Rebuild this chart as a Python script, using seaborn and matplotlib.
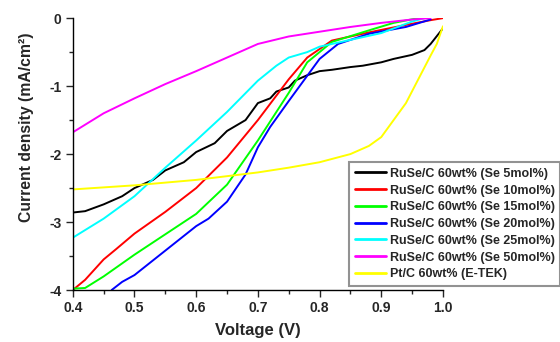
import numpy as np
import pandas as pd
import matplotlib
matplotlib.use("Agg")
import matplotlib.pyplot as plt
import seaborn as sns

# Valori (tensione V, densita di corrente mA/cm2)
labels = ["RuSe/C 60wt% (Se 5mol%)", "RuSe/C 60wt% (Se 10mol%)",
          "RuSe/C 60wt% (Se 15mol%)", "RuSe/C 60wt% (Se 20mol%)",
          "RuSe/C 60wt% (Se 25mol%)", "RuSe/C 60wt% (Se 50mol%)",
          "Pt/C 60wt% (E-TEK)"]
colors = ["#000000", "#ff0000", "#00ff00", "#0000ff", "#00ffff", "#ff00ff", "#ffff00"]

v_se5 = [0.40, 0.42, 0.45, 0.48, 0.50, 0.53, 0.55, 0.58, 0.60, 0.63, 0.65, 0.68, 0.70,
         0.72, 0.73, 0.75, 0.76, 0.78, 0.80, 0.82, 0.85, 0.87, 0.90, 0.92, 0.95, 0.97, 0.98, 1.00]
j_se5 = [-2.86, -2.84, -2.74, -2.62, -2.50, -2.38, -2.24, -2.12, -1.97, -1.84, -1.66, -1.50, -1.25,
         -1.18, -1.08, -1.02, -0.92, -0.84, -0.78, -0.76, -0.72, -0.70, -0.65, -0.60, -0.54, -0.47, -0.38, -0.15]

v_se10 = [0.40, 0.42, 0.45, 0.47, 0.50, 0.55, 0.60, 0.65, 0.70, 0.75, 0.78, 0.82, 0.88, 0.94, 0.98, 1.00]
j_se10 = [-4.00, -3.85, -3.55, -3.40, -3.17, -2.85, -2.50, -2.05, -1.50, -0.90, -0.58, -0.33, -0.21, -0.10, -0.03, 0.0]

v_se15 = [0.40, 0.42, 0.45, 0.50, 0.55, 0.60, 0.65, 0.70, 0.75, 0.78, 0.82, 0.88, 0.92, 0.96]
j_se15 = [-3.98, -3.97, -3.80, -3.48, -3.18, -2.88, -2.45, -1.80, -1.10, -0.65, -0.35, -0.18, -0.07, 0.0]

v_se20 = [0.463, 0.48, 0.50, 0.55, 0.60, 0.62, 0.65, 0.68, 0.70, 0.72, 0.75, 0.80, 0.83, 0.88, 0.94, 0.98]
j_se20 = [-4.00, -3.88, -3.78, -3.42, -3.06, -2.95, -2.70, -2.30, -1.90, -1.60, -1.22, -0.60, -0.38, -0.23, -0.13, -0.02]

v_se25 = [0.40, 0.45, 0.50, 0.55, 0.60, 0.65, 0.70, 0.73, 0.75, 0.78, 0.80, 0.85, 0.90, 0.95, 0.97]
j_se25 = [-3.23, -2.95, -2.62, -2.20, -1.80, -1.38, -0.92, -0.70, -0.58, -0.50, -0.42, -0.32, -0.22, -0.05, 0.0]

v_se50 = [0.40, 0.45, 0.50, 0.55, 0.60, 0.65, 0.70, 0.75, 0.80, 0.85, 0.90, 0.95, 0.98]
j_se50 = [-1.68, -1.40, -1.18, -0.97, -0.78, -0.58, -0.38, -0.27, -0.20, -0.13, -0.07, -0.02, 0.0]

v_pt = [0.40, 0.50, 0.60, 0.70, 0.75, 0.80, 0.85, 0.88, 0.90, 0.92, 0.94, 0.96, 0.98, 0.99, 1.00]
j_pt = [-2.52, -2.46, -2.38, -2.27, -2.20, -2.12, -2.00, -1.88, -1.75, -1.50, -1.25, -0.90, -0.55, -0.38, -0.12]

series_v = [v_se5, v_se10, v_se15, v_se20, v_se25, v_se50, v_pt]
series_j = [j_se5, j_se10, j_se15, j_se20, j_se25, j_se50, j_pt]

df = pd.concat([pd.DataFrame({"V": v, "J": j, "campione": lab})
                for v, j, lab in zip(series_v, series_j, labels)], ignore_index=True)

sns.set_style("ticks")
plt.rcParams["font.family"] = ["Liberation Sans", "DejaVu Sans"]
plt.rcParams["font.weight"] = "bold"

fig = plt.figure(figsize=(5.6, 3.42), dpi=100)
ax = fig.add_axes([0.130, 0.152, 0.661, 0.795])

sns.lineplot(data=df, x="V", y="J", hue="campione", hue_order=labels,
             palette=dict(zip(labels, colors)), sort=False, estimator=None,
             linewidth=1.4, ax=ax)

ax.set_xlim(0.4, 1.0)
ax.set_ylim(-4, 0)
ax.set_xticks([0.4, 0.5, 0.6, 0.7, 0.8, 0.9, 1.0])
ax.set_yticks([-4, -3, -2, -1, 0])
ax.set_yticklabels(["-4", "-3", "-2", "-1", "0"])
ax.set_xticks(np.arange(0.45, 1.0, 0.1), minor=True)
ax.set_yticks([-3.5, -2.5, -1.5, -0.5], minor=True)
ax.tick_params(which="major", direction="out", length=5, width=1, labelsize=10, pad=3)
ax.tick_params(which="minor", direction="out", length=3, width=1)
for lab in ax.get_xticklabels() + ax.get_yticklabels():
    lab.set_fontweight("bold")
for s in ["top", "right"]:
    ax.spines[s].set_visible(False)
for s in ["left", "bottom"]:
    ax.spines[s].set_color("black")
    ax.spines[s].set_linewidth(1)

ax.set_xlabel("Voltage (V)", fontsize=12, fontweight="bold")
ax.xaxis.set_label_coords(0.5, -0.122)
ax.set_ylabel("Current density (mA/cm²)", fontsize=11.3, fontweight="bold")
ax.yaxis.set_label_coords(-0.105, 0.6)

handles, labs = ax.get_legend_handles_labels()
leg = ax.legend(handles, labs, loc="lower left", bbox_to_anchor=(0.623, 0.164),
                bbox_transform=fig.transFigure, prop={"weight": "bold", "size": 9},
                frameon=True, fancybox=False, handlelength=2.5, handletextpad=0.3,
                labelspacing=0.38, borderpad=0.45, borderaxespad=0)
leg.get_frame().set_edgecolor("#777777")
leg.get_frame().set_linewidth(1.5)
for line in leg.get_lines():
    line.set_linewidth(2)

plt.savefig("out.png", dpi=100)
